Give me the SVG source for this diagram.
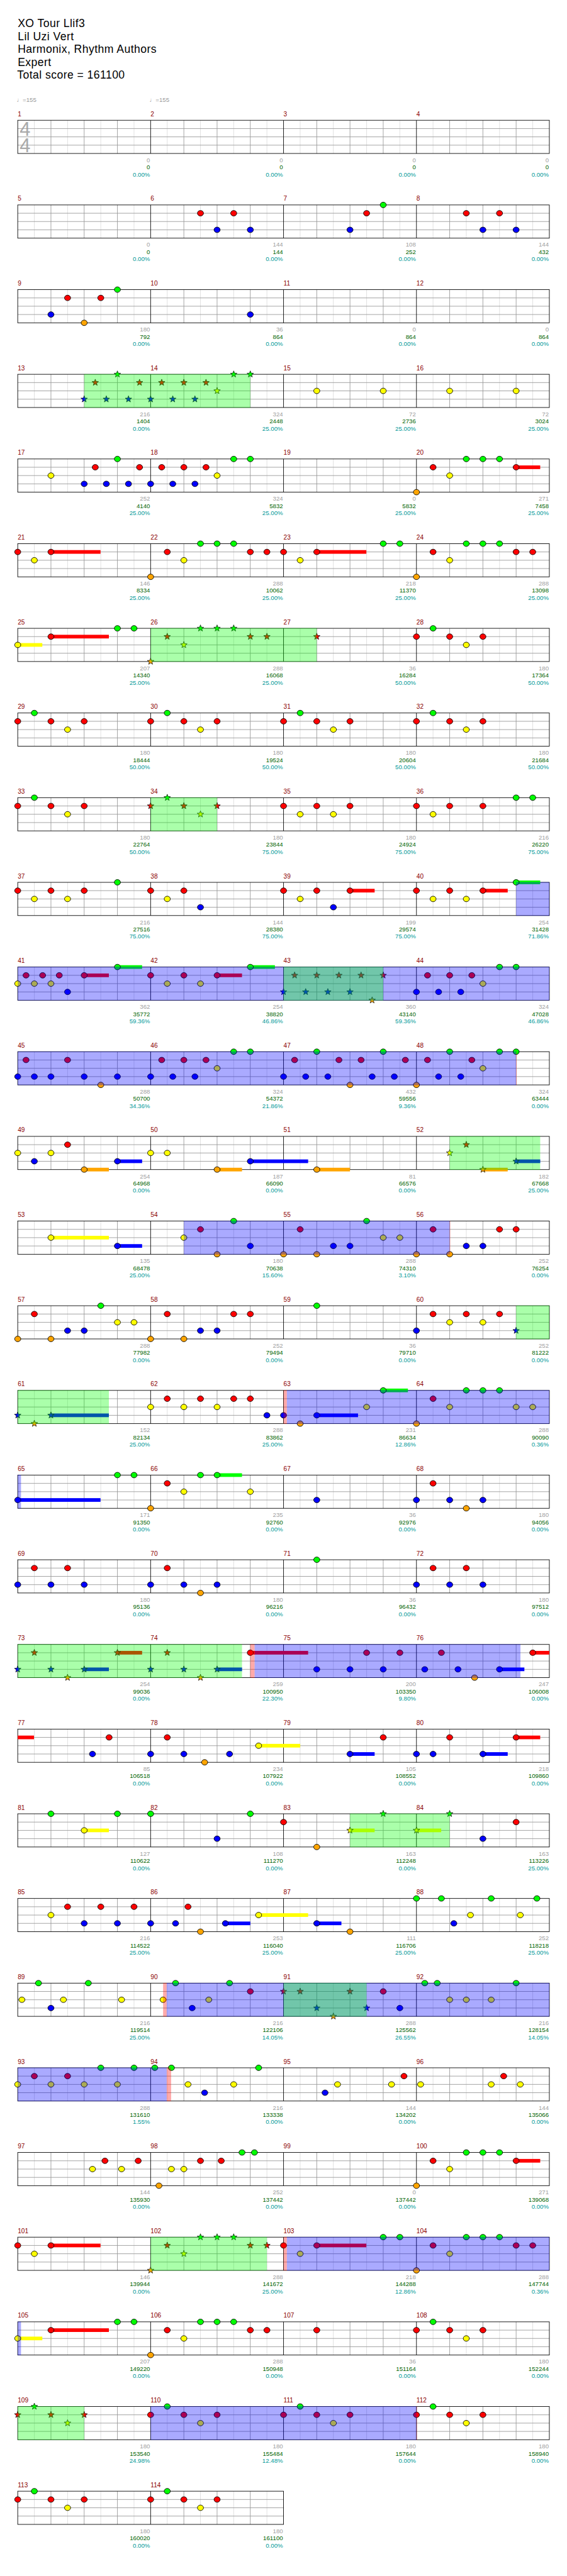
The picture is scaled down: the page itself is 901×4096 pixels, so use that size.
<svg xmlns="http://www.w3.org/2000/svg" xmlns:xlink="http://www.w3.org/1999/xlink" width="901" height="4096" viewBox="0 0 901 4096">
<style>
text{font-family:"Liberation Sans","DejaVu Sans",Arial,sans-serif}
.t{font-size:20px;letter-spacing:0.5px;fill:#000}
.tp{font-size:11px;fill:#999}
.mn{font-size:11.5px;fill:#8b0000}
.a,.b,.c{font-size:11px;text-anchor:end}
.a{fill:#a0a0a0}.b{fill:#006400}.c{fill:#009999}
.ts{font-size:35px;fill:#aaa}
.lt{stroke:#ddd;fill:none}.gy{stroke:#999;fill:none}.bk{stroke:#000;fill:none}
.sg{fill:#0f0}.sr{fill:#f00}.sy{fill:#ff0}.sb{fill:#00f}.so{fill:#ffa500}
.ob{fill:#00f;fill-opacity:.333}.og{fill:#0f0;fill-opacity:.333}.op{fill:#f00;fill-opacity:.333}
</style>
<defs>
<g id="staff">
<path class="lt" d="M30 0V60M90 0V60M150 0V60M210 0V60M270 0V60M330 0V60M390 0V60M450 0V60M510 0V60M570 0V60M630 0V60M690 0V60M750 0V60M810 0V60M870 0V60M930 0V60"/>
<path class="gy" d="M60 0V60M120 0V60M180 0V60M300 0V60M360 0V60M420 0V60M540 0V60M600 0V60M660 0V60M780 0V60M840 0V60M900 0V60M0 15H960M0 30H960M0 45H960"/>
<path class="bk" d="M240 0V60M480 0V60M720 0V60"/>
<rect class="bk" x="0" y="0" width="960" height="60"/>
</g>
<g id="staff2">
<path class="lt" d="M30 0V60M90 0V60M150 0V60M210 0V60M270 0V60M330 0V60M390 0V60M450 0V60"/>
<path class="gy" d="M60 0V60M120 0V60M180 0V60M300 0V60M360 0V60M420 0V60M0 15H480M0 30H480M0 45H480"/>
<path class="bk" d="M240 0V60"/>
<rect class="bk" x="0" y="0" width="480" height="60"/>
</g>
<ellipse id="G" rx="5.5" ry="5" fill="#0f0" stroke="#000"/>
<ellipse id="R" cy="15" rx="5.5" ry="5" fill="#f00" stroke="#000"/>
<ellipse id="Y" cy="30" rx="5.5" ry="5" fill="#ff0" stroke="#000"/>
<ellipse id="B" cy="45" rx="5.5" ry="5" fill="#00f" stroke="#000"/>
<ellipse id="O" cy="60" rx="5.5" ry="5" fill="#ffa500" stroke="#000"/>
<path id="st" d="M0,-6.2L1.5,-2.1L5.9,-1.9L2.4,0.8L3.6,5L0,2.6L-3.6,5L-2.4,0.8L-5.9,-1.9L-1.5,-2.1Z" stroke="#000" stroke-width=".8"/>
<use id="sG" href="#st" fill="#0f0"/>
<use id="sR" href="#st" y="15" fill="#f00"/>
<use id="sY" href="#st" y="30" fill="#ff0"/>
<use id="sB" href="#st" y="45" fill="#00f"/>
<use id="sO" href="#st" y="60" fill="#ffa500"/>
</defs>
<rect x="0" y="0" width="901" height="4096" fill="#fff"/>
<g transform="scale(0.88)">
<g id="header">
<text class="t" x="32" y="49">XO Tour Llif3</text>
<text class="t" x="32" y="72.5">Lil Uzi Vert</text>
<text class="t" x="32" y="96">Harmonix, Rhythm Authors</text>
<text class="t" x="32" y="119">Expert</text>
<text class="t" x="31" y="142">Total score = 161100</text>
<text class="tp" x="30" y="184">♩=155</text>
<text class="tp" x="270" y="184">♩=155</text>
<text class="ts" transform="translate(35.5,245) rotate(90)" x="0 30" y="0" rotate="-90">44</text>
</g>

<g id="row1" transform="translate(32,217.3)">
<use href="#staff"/>
<text class="mn" x="0" y="-7.3">1</text><text class="mn" x="240" y="-7.3">2</text><text class="mn" x="480" y="-7.3">3</text><text class="mn" x="720" y="-7.3">4</text>
<text class="a" x="239" y="75.7">0</text><text class="b" x="239" y="88.7">0</text><text class="c" x="239" y="101.7">0.00%</text>
<text class="a" x="479" y="75.7">0</text><text class="b" x="479" y="88.7">0</text><text class="c" x="479" y="101.7">0.00%</text>
<text class="a" x="719" y="75.7">0</text><text class="b" x="719" y="88.7">0</text><text class="c" x="719" y="101.7">0.00%</text>
<text class="a" x="959" y="75.7">0</text><text class="b" x="959" y="88.7">0</text><text class="c" x="959" y="101.7">0.00%</text>
</g>

<g id="row2" transform="translate(32,370.3)">
<use href="#staff"/>
<use href="#R" x="330"/><use href="#B" x="360"/><use href="#R" x="390"/><use href="#B" x="420"/><use href="#B" x="600"/><use href="#R" x="630"/><use href="#G" x="660"/><use href="#R" x="810"/><use href="#B" x="840"/><use href="#R" x="870"/><use href="#B" x="900"/>
<text class="mn" x="0" y="-7.3">5</text><text class="mn" x="240" y="-7.3">6</text><text class="mn" x="480" y="-7.3">7</text><text class="mn" x="720" y="-7.3">8</text>
<text class="a" x="239" y="75.7">0</text><text class="b" x="239" y="88.7">0</text><text class="c" x="239" y="101.7">0.00%</text>
<text class="a" x="479" y="75.7">144</text><text class="b" x="479" y="88.7">144</text><text class="c" x="479" y="101.7">0.00%</text>
<text class="a" x="719" y="75.7">108</text><text class="b" x="719" y="88.7">252</text><text class="c" x="719" y="101.7">0.00%</text>
<text class="a" x="959" y="75.7">144</text><text class="b" x="959" y="88.7">432</text><text class="c" x="959" y="101.7">0.00%</text>
</g>

<g id="row3" transform="translate(32,523.3)">
<use href="#staff"/>
<use href="#B" x="60"/><use href="#R" x="90"/><use href="#O" x="120"/><use href="#R" x="150"/><use href="#G" x="180"/><use href="#B" x="420"/>
<text class="mn" x="0" y="-7.3">9</text><text class="mn" x="240" y="-7.3">10</text><text class="mn" x="480" y="-7.3">11</text><text class="mn" x="720" y="-7.3">12</text>
<text class="a" x="239" y="75.7">180</text><text class="b" x="239" y="88.7">792</text><text class="c" x="239" y="101.7">0.00%</text>
<text class="a" x="479" y="75.7">36</text><text class="b" x="479" y="88.7">864</text><text class="c" x="479" y="101.7">0.00%</text>
<text class="a" x="719" y="75.7">0</text><text class="b" x="719" y="88.7">864</text><text class="c" x="719" y="101.7">0.00%</text>
<text class="a" x="959" y="75.7">0</text><text class="b" x="959" y="88.7">864</text><text class="c" x="959" y="101.7">0.00%</text>
</g>

<g id="row4" transform="translate(32,676.3)">
<use href="#staff"/>
<use href="#sB" x="120"/><use href="#sR" x="140"/><use href="#sB" x="160"/><use href="#sG" x="180"/><use href="#sB" x="200"/><use href="#sR" x="220"/><use href="#sB" x="240"/><use href="#sR" x="260"/><use href="#sB" x="280"/><use href="#sR" x="300"/><use href="#sB" x="320"/><use href="#sR" x="340"/><use href="#sY" x="360"/><use href="#sG" x="390"/><use href="#sG" x="420"/>
<use href="#Y" x="540"/><use href="#Y" x="660"/><use href="#Y" x="780"/><use href="#Y" x="900"/>
<rect class="og" x="120" y="-0.5" width="300" height="61"/>
<text class="mn" x="0" y="-7.3">13</text><text class="mn" x="240" y="-7.3">14</text><text class="mn" x="480" y="-7.3">15</text><text class="mn" x="720" y="-7.3">16</text>
<text class="a" x="239" y="75.7">216</text><text class="b" x="239" y="88.7">1404</text><text class="c" x="239" y="101.7">0.00%</text>
<text class="a" x="479" y="75.7">324</text><text class="b" x="479" y="88.7">2448</text><text class="c" x="479" y="101.7">25.00%</text>
<text class="a" x="719" y="75.7">72</text><text class="b" x="719" y="88.7">2736</text><text class="c" x="719" y="101.7">25.00%</text>
<text class="a" x="959" y="75.7">72</text><text class="b" x="959" y="88.7">3024</text><text class="c" x="959" y="101.7">25.00%</text>
</g>

<g id="row5" transform="translate(32,829.3)">
<use href="#staff"/>
<rect class="sr" x="900" y="11.7" width="43.5" height="6.6"/>
<use href="#Y" x="60"/><use href="#B" x="120"/><use href="#R" x="140"/><use href="#B" x="160"/><use href="#G" x="180"/><use href="#B" x="200"/><use href="#R" x="220"/><use href="#B" x="240"/><use href="#R" x="260"/><use href="#B" x="280"/><use href="#R" x="300"/><use href="#B" x="320"/><use href="#R" x="340"/><use href="#Y" x="360"/><use href="#G" x="390"/><use href="#G" x="420"/>
<use href="#O" x="720"/><use href="#R" x="750"/><use href="#Y" x="780"/><use href="#G" x="810"/><use href="#G" x="840"/><use href="#G" x="870"/><use href="#R" x="900"/>
<text class="mn" x="0" y="-7.3">17</text><text class="mn" x="240" y="-7.3">18</text><text class="mn" x="480" y="-7.3">19</text><text class="mn" x="720" y="-7.3">20</text>
<text class="a" x="239" y="75.7">252</text><text class="b" x="239" y="88.7">4140</text><text class="c" x="239" y="101.7">25.00%</text>
<text class="a" x="479" y="75.7">324</text><text class="b" x="479" y="88.7">5832</text><text class="c" x="479" y="101.7">25.00%</text>
<text class="a" x="719" y="75.7">0</text><text class="b" x="719" y="88.7">5832</text><text class="c" x="719" y="101.7">25.00%</text>
<text class="a" x="959" y="75.7">271</text><text class="b" x="959" y="88.7">7458</text><text class="c" x="959" y="101.7">25.00%</text>
</g>

<g id="row6" transform="translate(32,982.3)">
<use href="#staff"/>
<rect class="sr" x="60" y="11.7" width="89.5" height="6.6"/><rect class="sr" x="540" y="11.7" width="89.5" height="6.6"/>
<use href="#R" x="0"/><use href="#Y" x="30"/><use href="#R" x="60"/><use href="#O" x="240"/><use href="#R" x="270"/><use href="#Y" x="300"/><use href="#G" x="330"/><use href="#G" x="360"/><use href="#G" x="390"/><use href="#R" x="420"/><use href="#R" x="450"/><use href="#R" x="480"/><use href="#Y" x="510"/><use href="#R" x="540"/><use href="#G" x="660"/><use href="#G" x="690"/><use href="#O" x="720"/><use href="#R" x="750"/><use href="#Y" x="780"/><use href="#G" x="810"/><use href="#G" x="840"/><use href="#G" x="870"/><use href="#R" x="900"/><use href="#R" x="930"/>
<text class="mn" x="0" y="-7.3">21</text><text class="mn" x="240" y="-7.3">22</text><text class="mn" x="480" y="-7.3">23</text><text class="mn" x="720" y="-7.3">24</text>
<text class="a" x="239" y="75.7">146</text><text class="b" x="239" y="88.7">8334</text><text class="c" x="239" y="101.7">25.00%</text>
<text class="a" x="479" y="75.7">288</text><text class="b" x="479" y="88.7">10062</text><text class="c" x="479" y="101.7">25.00%</text>
<text class="a" x="719" y="75.7">218</text><text class="b" x="719" y="88.7">11370</text><text class="c" x="719" y="101.7">25.00%</text>
<text class="a" x="959" y="75.7">288</text><text class="b" x="959" y="88.7">13098</text><text class="c" x="959" y="101.7">25.00%</text>
</g>

<g id="row7" transform="translate(32,1135.3)">
<use href="#staff"/>
<rect class="sy" x="0" y="26.7" width="44.4" height="6.6"/><rect class="sr" x="60" y="11.7" width="104.6" height="6.6"/>
<use href="#Y" x="0"/><use href="#R" x="60"/><use href="#G" x="180"/><use href="#G" x="210"/>
<use href="#sO" x="240"/><use href="#sR" x="270"/><use href="#sY" x="300"/><use href="#sG" x="330"/><use href="#sG" x="360"/><use href="#sG" x="390"/><use href="#sR" x="420"/><use href="#sR" x="450"/><use href="#sR" x="540"/>
<use href="#R" x="720"/><use href="#G" x="750"/><use href="#R" x="780"/><use href="#Y" x="810"/><use href="#R" x="840"/>
<rect class="og" x="240" y="-0.5" width="300" height="61"/>
<text class="mn" x="0" y="-7.3">25</text><text class="mn" x="240" y="-7.3">26</text><text class="mn" x="480" y="-7.3">27</text><text class="mn" x="720" y="-7.3">28</text>
<text class="a" x="239" y="75.7">207</text><text class="b" x="239" y="88.7">14340</text><text class="c" x="239" y="101.7">25.00%</text>
<text class="a" x="479" y="75.7">288</text><text class="b" x="479" y="88.7">16068</text><text class="c" x="479" y="101.7">25.00%</text>
<text class="a" x="719" y="75.7">36</text><text class="b" x="719" y="88.7">16284</text><text class="c" x="719" y="101.7">50.00%</text>
<text class="a" x="959" y="75.7">180</text><text class="b" x="959" y="88.7">17364</text><text class="c" x="959" y="101.7">50.00%</text>
</g>

<g id="row8" transform="translate(32,1288.3)">
<use href="#staff"/>
<use href="#R" x="0"/><use href="#G" x="30"/><use href="#R" x="60"/><use href="#Y" x="90"/><use href="#R" x="120"/><use href="#R" x="240"/><use href="#G" x="270"/><use href="#R" x="300"/><use href="#Y" x="330"/><use href="#R" x="360"/><use href="#R" x="480"/><use href="#G" x="510"/><use href="#R" x="540"/><use href="#Y" x="570"/><use href="#R" x="600"/><use href="#R" x="720"/><use href="#G" x="750"/><use href="#R" x="780"/><use href="#Y" x="810"/><use href="#R" x="840"/>
<text class="mn" x="0" y="-7.3">29</text><text class="mn" x="240" y="-7.3">30</text><text class="mn" x="480" y="-7.3">31</text><text class="mn" x="720" y="-7.3">32</text>
<text class="a" x="239" y="75.7">180</text><text class="b" x="239" y="88.7">18444</text><text class="c" x="239" y="101.7">50.00%</text>
<text class="a" x="479" y="75.7">180</text><text class="b" x="479" y="88.7">19524</text><text class="c" x="479" y="101.7">50.00%</text>
<text class="a" x="719" y="75.7">180</text><text class="b" x="719" y="88.7">20604</text><text class="c" x="719" y="101.7">50.00%</text>
<text class="a" x="959" y="75.7">180</text><text class="b" x="959" y="88.7">21684</text><text class="c" x="959" y="101.7">50.00%</text>
</g>

<g id="row9" transform="translate(32,1441.3)">
<use href="#staff"/>
<use href="#R" x="0"/><use href="#G" x="30"/><use href="#R" x="60"/><use href="#Y" x="90"/><use href="#R" x="120"/>
<use href="#sR" x="240"/><use href="#sG" x="270"/><use href="#sR" x="300"/><use href="#sY" x="330"/><use href="#sR" x="360"/>
<use href="#R" x="480"/><use href="#Y" x="510"/><use href="#R" x="540"/><use href="#Y" x="570"/><use href="#R" x="600"/><use href="#R" x="720"/><use href="#Y" x="750"/><use href="#R" x="780"/><use href="#R" x="840"/><use href="#G" x="900"/><use href="#G" x="930"/>
<rect class="og" x="240" y="-0.5" width="120" height="61"/>
<text class="mn" x="0" y="-7.3">33</text><text class="mn" x="240" y="-7.3">34</text><text class="mn" x="480" y="-7.3">35</text><text class="mn" x="720" y="-7.3">36</text>
<text class="a" x="239" y="75.7">180</text><text class="b" x="239" y="88.7">22764</text><text class="c" x="239" y="101.7">50.00%</text>
<text class="a" x="479" y="75.7">180</text><text class="b" x="479" y="88.7">23844</text><text class="c" x="479" y="101.7">75.00%</text>
<text class="a" x="719" y="75.7">180</text><text class="b" x="719" y="88.7">24924</text><text class="c" x="719" y="101.7">75.00%</text>
<text class="a" x="959" y="75.7">216</text><text class="b" x="959" y="88.7">26220</text><text class="c" x="959" y="101.7">75.00%</text>
</g>

<g id="row10" transform="translate(32,1594.3)">
<use href="#staff"/>
<rect class="sr" x="600" y="11.7" width="44.5" height="6.6"/><rect class="sr" x="840" y="11.7" width="44.8" height="6.6"/><rect class="sg" x="900" y="-3.3" width="43.5" height="6.6"/>
<use href="#R" x="0"/><use href="#Y" x="30"/><use href="#R" x="60"/><use href="#Y" x="90"/><use href="#R" x="120"/><use href="#G" x="180"/><use href="#R" x="240"/><use href="#Y" x="270"/><use href="#R" x="300"/><use href="#B" x="330"/><use href="#R" x="480"/><use href="#Y" x="510"/><use href="#R" x="540"/><use href="#B" x="570"/><use href="#R" x="600"/><use href="#R" x="720"/><use href="#Y" x="750"/><use href="#R" x="780"/><use href="#Y" x="810"/><use href="#R" x="840"/><use href="#G" x="900"/>
<rect class="ob" x="900" y="-0.5" width="60" height="61"/>
<text class="mn" x="0" y="-7.3">37</text><text class="mn" x="240" y="-7.3">38</text><text class="mn" x="480" y="-7.3">39</text><text class="mn" x="720" y="-7.3">40</text>
<text class="a" x="239" y="75.7">216</text><text class="b" x="239" y="88.7">27516</text><text class="c" x="239" y="101.7">75.00%</text>
<text class="a" x="479" y="75.7">144</text><text class="b" x="479" y="88.7">28380</text><text class="c" x="479" y="101.7">75.00%</text>
<text class="a" x="719" y="75.7">199</text><text class="b" x="719" y="88.7">29574</text><text class="c" x="719" y="101.7">75.00%</text>
<text class="a" x="959" y="75.7">254</text><text class="b" x="959" y="88.7">31428</text><text class="c" x="959" y="101.7">71.86%</text>
</g>

<g id="row11" transform="translate(32,1747.3)">
<use href="#staff"/>
<rect class="sr" x="120" y="11.7" width="44.6" height="6.6"/><rect class="sg" x="180" y="-3.3" width="44.6" height="6.6"/><rect class="sr" x="360" y="11.7" width="45" height="6.6"/><rect class="sg" x="420" y="-3.3" width="44.4" height="6.6"/>
<use href="#Y" x="0"/><use href="#R" x="15"/><use href="#Y" x="30"/><use href="#R" x="45"/><use href="#Y" x="60"/><use href="#R" x="75"/><use href="#B" x="90"/><use href="#R" x="120"/><use href="#G" x="180"/><use href="#R" x="240"/><use href="#Y" x="270"/><use href="#R" x="300"/><use href="#Y" x="330"/><use href="#R" x="360"/><use href="#G" x="420"/>
<use href="#sB" x="480"/><use href="#sR" x="500"/><use href="#sB" x="520"/><use href="#sR" x="540"/><use href="#sB" x="560"/><use href="#sR" x="580"/><use href="#sB" x="600"/><use href="#sR" x="620"/><use href="#sO" x="640"/><use href="#sR" x="660"/>
<use href="#B" x="720"/><use href="#R" x="740"/><use href="#B" x="760"/><use href="#R" x="780"/><use href="#B" x="800"/><use href="#R" x="820"/><use href="#Y" x="840"/><use href="#G" x="870"/><use href="#G" x="900"/>
<rect class="ob" x="0" y="-0.5" width="960" height="61"/><rect class="og" x="480" y="-0.5" width="180" height="61"/>
<text class="mn" x="0" y="-7.3">41</text><text class="mn" x="240" y="-7.3">42</text><text class="mn" x="480" y="-7.3">43</text><text class="mn" x="720" y="-7.3">44</text>
<text class="a" x="239" y="75.7">362</text><text class="b" x="239" y="88.7">35772</text><text class="c" x="239" y="101.7">59.36%</text>
<text class="a" x="479" y="75.7">254</text><text class="b" x="479" y="88.7">38820</text><text class="c" x="479" y="101.7">46.86%</text>
<text class="a" x="719" y="75.7">360</text><text class="b" x="719" y="88.7">43140</text><text class="c" x="719" y="101.7">59.36%</text>
<text class="a" x="959" y="75.7">324</text><text class="b" x="959" y="88.7">47028</text><text class="c" x="959" y="101.7">46.86%</text>
</g>

<g id="row12" transform="translate(32,1900.3)">
<use href="#staff"/>
<use href="#B" x="0"/><use href="#R" x="15"/><use href="#B" x="30"/><use href="#B" x="60"/><use href="#R" x="90"/><use href="#B" x="120"/><use href="#O" x="150"/><use href="#B" x="180"/><use href="#B" x="240"/><use href="#R" x="260"/><use href="#B" x="280"/><use href="#R" x="300"/><use href="#B" x="320"/><use href="#R" x="340"/><use href="#Y" x="360"/><use href="#G" x="390"/><use href="#G" x="420"/><use href="#B" x="480"/><use href="#R" x="500"/><use href="#B" x="520"/><use href="#G" x="540"/><use href="#B" x="560"/><use href="#R" x="580"/><use href="#O" x="600"/><use href="#R" x="620"/><use href="#B" x="640"/><use href="#G" x="660"/><use href="#B" x="680"/><use href="#R" x="700"/><use href="#O" x="720"/><use href="#R" x="740"/><use href="#B" x="760"/><use href="#G" x="780"/><use href="#B" x="800"/><use href="#R" x="820"/><use href="#Y" x="840"/><use href="#G" x="870"/><use href="#G" x="900"/>
<rect class="ob" x="0" y="-0.5" width="900" height="61"/><rect class="op" x="900" y="-0.5" width="1" height="61"/>
<text class="mn" x="0" y="-7.3">45</text><text class="mn" x="240" y="-7.3">46</text><text class="mn" x="480" y="-7.3">47</text><text class="mn" x="720" y="-7.3">48</text>
<text class="a" x="239" y="75.7">288</text><text class="b" x="239" y="88.7">50700</text><text class="c" x="239" y="101.7">34.36%</text>
<text class="a" x="479" y="75.7">324</text><text class="b" x="479" y="88.7">54372</text><text class="c" x="479" y="101.7">21.86%</text>
<text class="a" x="719" y="75.7">432</text><text class="b" x="719" y="88.7">59556</text><text class="c" x="719" y="101.7">9.36%</text>
<text class="a" x="959" y="75.7">324</text><text class="b" x="959" y="88.7">63444</text><text class="c" x="959" y="101.7">0.00%</text>
</g>

<g id="row13" transform="translate(32,2053.3)">
<use href="#staff"/>
<rect class="so" x="120" y="56.7" width="44.6" height="6.6"/><rect class="sb" x="180" y="41.7" width="44.6" height="6.6"/><rect class="so" x="360" y="56.7" width="45" height="6.6"/><rect class="sb" x="420" y="41.7" width="104.4" height="6.6"/><rect class="so" x="540" y="56.7" width="60" height="6.6"/><rect class="so" x="840" y="56.7" width="44.8" height="6.6"/><rect class="sb" x="900" y="41.7" width="43.5" height="6.6"/>
<use href="#Y" x="0"/><use href="#B" x="30"/><use href="#Y" x="60"/><use href="#R" x="90"/><use href="#O" x="120"/><use href="#B" x="180"/><use href="#Y" x="240"/><use href="#Y" x="270"/><use href="#O" x="360"/><use href="#B" x="420"/><use href="#O" x="540"/>
<use href="#sY" x="780"/><use href="#sR" x="810"/><use href="#sO" x="840"/><use href="#sB" x="900"/>
<rect class="og" x="780" y="-0.5" width="163.5" height="61"/>
<text class="mn" x="0" y="-7.3">49</text><text class="mn" x="240" y="-7.3">50</text><text class="mn" x="480" y="-7.3">51</text><text class="mn" x="720" y="-7.3">52</text>
<text class="a" x="239" y="75.7">254</text><text class="b" x="239" y="88.7">64968</text><text class="c" x="239" y="101.7">0.00%</text>
<text class="a" x="479" y="75.7">187</text><text class="b" x="479" y="88.7">66090</text><text class="c" x="479" y="101.7">0.00%</text>
<text class="a" x="719" y="75.7">81</text><text class="b" x="719" y="88.7">66576</text><text class="c" x="719" y="101.7">0.00%</text>
<text class="a" x="959" y="75.7">182</text><text class="b" x="959" y="88.7">67668</text><text class="c" x="959" y="101.7">25.00%</text>
</g>

<g id="row14" transform="translate(32,2206.3)">
<use href="#staff"/>
<rect class="sy" x="60" y="26.7" width="104.6" height="6.6"/><rect class="sb" x="180" y="41.7" width="44.6" height="6.6"/>
<use href="#Y" x="60"/><use href="#B" x="180"/><use href="#Y" x="300"/><use href="#R" x="330"/><use href="#O" x="360"/><use href="#G" x="390"/><use href="#B" x="420"/><use href="#O" x="480"/><use href="#R" x="510"/><use href="#O" x="540"/><use href="#B" x="570"/><use href="#B" x="600"/><use href="#G" x="630"/><use href="#Y" x="660"/><use href="#Y" x="690"/><use href="#O" x="720"/><use href="#R" x="750"/><use href="#O" x="780"/><use href="#B" x="810"/><use href="#B" x="840"/><use href="#R" x="870"/><use href="#R" x="900"/>
<rect class="ob" x="300" y="-0.5" width="480" height="61"/><rect class="op" x="780" y="-0.5" width="1" height="61"/>
<text class="mn" x="0" y="-7.3">53</text><text class="mn" x="240" y="-7.3">54</text><text class="mn" x="480" y="-7.3">55</text><text class="mn" x="720" y="-7.3">56</text>
<text class="a" x="239" y="75.7">135</text><text class="b" x="239" y="88.7">68478</text><text class="c" x="239" y="101.7">25.00%</text>
<text class="a" x="479" y="75.7">180</text><text class="b" x="479" y="88.7">70638</text><text class="c" x="479" y="101.7">15.60%</text>
<text class="a" x="719" y="75.7">288</text><text class="b" x="719" y="88.7">74310</text><text class="c" x="719" y="101.7">3.10%</text>
<text class="a" x="959" y="75.7">252</text><text class="b" x="959" y="88.7">76254</text><text class="c" x="959" y="101.7">0.00%</text>
</g>

<g id="row15" transform="translate(32,2359.3)">
<use href="#staff"/>
<use href="#O" x="0"/><use href="#R" x="30"/><use href="#O" x="60"/><use href="#B" x="90"/><use href="#B" x="120"/><use href="#G" x="150"/><use href="#Y" x="180"/><use href="#Y" x="210"/><use href="#O" x="240"/><use href="#R" x="270"/><use href="#O" x="300"/><use href="#B" x="330"/><use href="#B" x="360"/><use href="#R" x="390"/><use href="#R" x="420"/><use href="#G" x="540"/><use href="#B" x="720"/><use href="#R" x="750"/><use href="#Y" x="780"/><use href="#R" x="810"/><use href="#Y" x="840"/><use href="#R" x="870"/><use href="#sB" x="900"/>
<rect class="og" x="900" y="-0.5" width="60" height="61"/>
<text class="mn" x="0" y="-7.3">57</text><text class="mn" x="240" y="-7.3">58</text><text class="mn" x="480" y="-7.3">59</text><text class="mn" x="720" y="-7.3">60</text>
<text class="a" x="239" y="75.7">288</text><text class="b" x="239" y="88.7">77982</text><text class="c" x="239" y="101.7">0.00%</text>
<text class="a" x="479" y="75.7">252</text><text class="b" x="479" y="88.7">79494</text><text class="c" x="479" y="101.7">0.00%</text>
<text class="a" x="719" y="75.7">36</text><text class="b" x="719" y="88.7">79710</text><text class="c" x="719" y="101.7">0.00%</text>
<text class="a" x="959" y="75.7">252</text><text class="b" x="959" y="88.7">81222</text><text class="c" x="959" y="101.7">0.00%</text>
</g>

<g id="row16" transform="translate(32,2512.3)">
<use href="#staff"/>
<rect class="sb" x="60" y="41.7" width="104.6" height="6.6"/><rect class="sb" x="540" y="41.7" width="74.5" height="6.6"/><rect class="sg" x="660" y="-3.3" width="44.6" height="6.6"/>
<use href="#sB" x="0"/><use href="#sO" x="30"/><use href="#sB" x="60"/>
<use href="#Y" x="240"/><use href="#R" x="270"/><use href="#Y" x="300"/><use href="#R" x="330"/><use href="#Y" x="360"/><use href="#R" x="390"/><use href="#R" x="420"/><use href="#B" x="450"/><use href="#B" x="480"/><use href="#O" x="510"/><use href="#B" x="540"/><use href="#Y" x="630"/><use href="#G" x="660"/><use href="#O" x="720"/><use href="#R" x="750"/><use href="#Y" x="780"/><use href="#G" x="810"/><use href="#G" x="840"/><use href="#G" x="870"/><use href="#Y" x="900"/><use href="#Y" x="930"/>
<rect class="og" x="0" y="-0.5" width="164.6" height="61"/><rect class="op" x="480" y="-0.5" width="6" height="61"/><rect class="ob" x="486" y="-0.5" width="474" height="61"/>
<text class="mn" x="0" y="-7.3">61</text><text class="mn" x="240" y="-7.3">62</text><text class="mn" x="480" y="-7.3">63</text><text class="mn" x="720" y="-7.3">64</text>
<text class="a" x="239" y="75.7">152</text><text class="b" x="239" y="88.7">82134</text><text class="c" x="239" y="101.7">25.00%</text>
<text class="a" x="479" y="75.7">288</text><text class="b" x="479" y="88.7">83862</text><text class="c" x="479" y="101.7">25.00%</text>
<text class="a" x="719" y="75.7">231</text><text class="b" x="719" y="88.7">86634</text><text class="c" x="719" y="101.7">12.86%</text>
<text class="a" x="959" y="75.7">288</text><text class="b" x="959" y="88.7">90090</text><text class="c" x="959" y="101.7">0.36%</text>
</g>

<g id="row17" transform="translate(32,2665.3)">
<use href="#staff"/>
<rect class="sb" x="0" y="41.7" width="149.5" height="6.6"/><rect class="sg" x="360" y="-3.3" width="45" height="6.6"/>
<use href="#B" x="0"/><use href="#G" x="180"/><use href="#G" x="210"/><use href="#O" x="240"/><use href="#R" x="270"/><use href="#Y" x="300"/><use href="#G" x="330"/><use href="#G" x="360"/><use href="#Y" x="420"/><use href="#B" x="540"/><use href="#B" x="720"/><use href="#R" x="750"/><use href="#B" x="780"/><use href="#O" x="810"/><use href="#B" x="840"/>
<rect class="ob" x="0" y="-0.5" width="5.9" height="61"/>
<text class="mn" x="0" y="-7.3">65</text><text class="mn" x="240" y="-7.3">66</text><text class="mn" x="480" y="-7.3">67</text><text class="mn" x="720" y="-7.3">68</text>
<text class="a" x="239" y="75.7">171</text><text class="b" x="239" y="88.7">91350</text><text class="c" x="239" y="101.7">0.00%</text>
<text class="a" x="479" y="75.7">235</text><text class="b" x="479" y="88.7">92760</text><text class="c" x="479" y="101.7">0.00%</text>
<text class="a" x="719" y="75.7">36</text><text class="b" x="719" y="88.7">92976</text><text class="c" x="719" y="101.7">0.00%</text>
<text class="a" x="959" y="75.7">180</text><text class="b" x="959" y="88.7">94056</text><text class="c" x="959" y="101.7">0.00%</text>
</g>

<g id="row18" transform="translate(32,2818.3)">
<use href="#staff"/>
<use href="#B" x="0"/><use href="#R" x="30"/><use href="#B" x="60"/><use href="#R" x="90"/><use href="#B" x="120"/><use href="#B" x="240"/><use href="#R" x="270"/><use href="#B" x="300"/><use href="#O" x="330"/><use href="#B" x="360"/><use href="#G" x="540"/><use href="#B" x="720"/><use href="#R" x="750"/><use href="#B" x="780"/><use href="#R" x="810"/><use href="#B" x="840"/>
<text class="mn" x="0" y="-7.3">69</text><text class="mn" x="240" y="-7.3">70</text><text class="mn" x="480" y="-7.3">71</text><text class="mn" x="720" y="-7.3">72</text>
<text class="a" x="239" y="75.7">180</text><text class="b" x="239" y="88.7">95136</text><text class="c" x="239" y="101.7">0.00%</text>
<text class="a" x="479" y="75.7">180</text><text class="b" x="479" y="88.7">96216</text><text class="c" x="479" y="101.7">0.00%</text>
<text class="a" x="719" y="75.7">36</text><text class="b" x="719" y="88.7">96432</text><text class="c" x="719" y="101.7">0.00%</text>
<text class="a" x="959" y="75.7">180</text><text class="b" x="959" y="88.7">97512</text><text class="c" x="959" y="101.7">0.00%</text>
</g>

<g id="row19" transform="translate(32,2971.3)">
<use href="#staff"/>
<rect class="sb" x="120" y="41.7" width="44.6" height="6.6"/><rect class="sr" x="180" y="11.7" width="44.6" height="6.6"/><rect class="sb" x="360" y="41.7" width="45" height="6.6"/><rect class="sr" x="420" y="11.7" width="104.4" height="6.6"/><rect class="sb" x="870" y="41.7" width="44.9" height="6.6"/><rect class="sr" x="930" y="11.7" width="30" height="6.6"/>
<use href="#sB" x="0"/><use href="#sR" x="30"/><use href="#sB" x="60"/><use href="#sO" x="90"/><use href="#sB" x="120"/><use href="#sR" x="180"/><use href="#sB" x="240"/><use href="#sR" x="270"/><use href="#sB" x="300"/><use href="#sO" x="330"/><use href="#sB" x="360"/>
<use href="#R" x="420"/><use href="#B" x="540"/><use href="#B" x="600"/><use href="#R" x="630"/><use href="#B" x="660"/><use href="#R" x="690"/><use href="#B" x="735"/><use href="#R" x="765"/><use href="#B" x="795"/><use href="#O" x="825"/><use href="#B" x="870"/><use href="#R" x="930"/>
<rect class="og" x="0" y="-0.5" width="405" height="61"/><rect class="op" x="420" y="-0.5" width="7.8" height="61"/><rect class="ob" x="427.8" y="-0.5" width="480" height="61"/>
<text class="mn" x="0" y="-7.3">73</text><text class="mn" x="240" y="-7.3">74</text><text class="mn" x="480" y="-7.3">75</text><text class="mn" x="720" y="-7.3">76</text>
<text class="a" x="239" y="75.7">254</text><text class="b" x="239" y="88.7">99036</text><text class="c" x="239" y="101.7">0.00%</text>
<text class="a" x="479" y="75.7">259</text><text class="b" x="479" y="88.7">100950</text><text class="c" x="479" y="101.7">22.30%</text>
<text class="a" x="719" y="75.7">200</text><text class="b" x="719" y="88.7">103350</text><text class="c" x="719" y="101.7">9.80%</text>
<text class="a" x="959" y="75.7">247</text><text class="b" x="959" y="88.7">106008</text><text class="c" x="959" y="101.7">0.00%</text>
</g>

<g id="row20" transform="translate(32,3124.3)">
<use href="#staff"/>
<rect class="sr" x="0" y="11.7" width="29.4" height="6.6"/><rect class="sy" x="435" y="26.7" width="75" height="6.6"/><rect class="sb" x="600" y="41.7" width="44.5" height="6.6"/><rect class="sb" x="840" y="41.7" width="44.8" height="6.6"/><rect class="sr" x="900" y="11.7" width="43.5" height="6.6"/>
<use href="#B" x="135"/><use href="#R" x="165"/><use href="#B" x="240"/><use href="#R" x="270"/><use href="#B" x="300"/><use href="#O" x="337.5"/><use href="#B" x="382.5"/><use href="#Y" x="435"/><use href="#B" x="600"/><use href="#R" x="660"/><use href="#B" x="720"/><use href="#B" x="750"/><use href="#R" x="780"/><use href="#B" x="840"/><use href="#R" x="900"/>
<text class="mn" x="0" y="-7.3">77</text><text class="mn" x="240" y="-7.3">78</text><text class="mn" x="480" y="-7.3">79</text><text class="mn" x="720" y="-7.3">80</text>
<text class="a" x="239" y="75.7">85</text><text class="b" x="239" y="88.7">106518</text><text class="c" x="239" y="101.7">0.00%</text>
<text class="a" x="479" y="75.7">234</text><text class="b" x="479" y="88.7">107922</text><text class="c" x="479" y="101.7">0.00%</text>
<text class="a" x="719" y="75.7">105</text><text class="b" x="719" y="88.7">108552</text><text class="c" x="719" y="101.7">0.00%</text>
<text class="a" x="959" y="75.7">218</text><text class="b" x="959" y="88.7">109860</text><text class="c" x="959" y="101.7">0.00%</text>
</g>

<g id="row21" transform="translate(32,3277.3)">
<use href="#staff"/>
<rect class="sy" x="120" y="26.7" width="44.6" height="6.6"/><rect class="sy" x="600" y="26.7" width="44.5" height="6.6"/><rect class="sy" x="720" y="26.7" width="44.7" height="6.6"/>
<use href="#G" x="60"/><use href="#Y" x="120"/><use href="#G" x="180"/><use href="#G" x="240"/><use href="#B" x="360"/><use href="#G" x="420"/><use href="#R" x="480"/><use href="#O" x="540"/>
<use href="#sY" x="600"/><use href="#sG" x="660"/><use href="#sY" x="720"/><use href="#sG" x="780"/>
<use href="#B" x="840"/><use href="#R" x="900"/>
<rect class="og" x="600" y="-0.5" width="180" height="61"/>
<text class="mn" x="0" y="-7.3">81</text><text class="mn" x="240" y="-7.3">82</text><text class="mn" x="480" y="-7.3">83</text><text class="mn" x="720" y="-7.3">84</text>
<text class="a" x="239" y="75.7">127</text><text class="b" x="239" y="88.7">110622</text><text class="c" x="239" y="101.7">0.00%</text>
<text class="a" x="479" y="75.7">108</text><text class="b" x="479" y="88.7">111270</text><text class="c" x="479" y="101.7">0.00%</text>
<text class="a" x="719" y="75.7">163</text><text class="b" x="719" y="88.7">112248</text><text class="c" x="719" y="101.7">0.00%</text>
<text class="a" x="959" y="75.7">163</text><text class="b" x="959" y="88.7">113226</text><text class="c" x="959" y="101.7">25.00%</text>
</g>

<g id="row22" transform="translate(32,3430.3)">
<use href="#staff"/>
<rect class="sb" x="375" y="41.7" width="45" height="6.6"/><rect class="sy" x="435" y="26.7" width="89.4" height="6.6"/><rect class="sb" x="540" y="41.7" width="44.5" height="6.6"/>
<use href="#Y" x="60"/><use href="#R" x="90"/><use href="#B" x="120"/><use href="#R" x="150"/><use href="#B" x="180"/><use href="#R" x="210"/><use href="#B" x="240"/><use href="#B" x="285"/><use href="#R" x="307.5"/><use href="#O" x="330"/><use href="#B" x="375"/><use href="#Y" x="435"/><use href="#B" x="540"/><use href="#O" x="600"/><use href="#G" x="720"/><use href="#G" x="765"/><use href="#B" x="787.5"/><use href="#Y" x="817.5"/><use href="#G" x="855"/><use href="#Y" x="907.5"/><use href="#G" x="937.5"/>
<text class="mn" x="0" y="-7.3">85</text><text class="mn" x="240" y="-7.3">86</text><text class="mn" x="480" y="-7.3">87</text><text class="mn" x="720" y="-7.3">88</text>
<text class="a" x="239" y="75.7">216</text><text class="b" x="239" y="88.7">114522</text><text class="c" x="239" y="101.7">25.00%</text>
<text class="a" x="479" y="75.7">253</text><text class="b" x="479" y="88.7">116040</text><text class="c" x="479" y="101.7">25.00%</text>
<text class="a" x="719" y="75.7">111</text><text class="b" x="719" y="88.7">116706</text><text class="c" x="719" y="101.7">25.00%</text>
<text class="a" x="959" y="75.7">252</text><text class="b" x="959" y="88.7">118218</text><text class="c" x="959" y="101.7">25.00%</text>
</g>

<g id="row23" transform="translate(32,3583.3)">
<use href="#staff"/>
<use href="#Y" x="7.5"/><use href="#G" x="37.5"/><use href="#B" x="60"/><use href="#Y" x="82.5"/><use href="#G" x="127.5"/><use href="#Y" x="187.5"/><use href="#Y" x="262.5"/><use href="#G" x="285"/><use href="#B" x="315"/><use href="#Y" x="345"/><use href="#G" x="382.5"/><use href="#R" x="420"/>
<use href="#sR" x="480"/><use href="#sR" x="510"/><use href="#sB" x="540"/><use href="#sO" x="570"/><use href="#sR" x="600"/><use href="#sB" x="630"/>
<use href="#R" x="660"/><use href="#B" x="690"/><use href="#G" x="735"/><use href="#G" x="757.5"/><use href="#Y" x="780"/><use href="#Y" x="810"/><use href="#Y" x="855"/><use href="#G" x="900"/>
<rect class="op" x="262.5" y="-0.5" width="6.5" height="61"/><rect class="ob" x="269" y="-0.5" width="691" height="61"/><rect class="og" x="480" y="-0.5" width="150" height="61"/>
<text class="mn" x="0" y="-7.3">89</text><text class="mn" x="240" y="-7.3">90</text><text class="mn" x="480" y="-7.3">91</text><text class="mn" x="720" y="-7.3">92</text>
<text class="a" x="239" y="75.7">216</text><text class="b" x="239" y="88.7">119514</text><text class="c" x="239" y="101.7">25.00%</text>
<text class="a" x="479" y="75.7">216</text><text class="b" x="479" y="88.7">122106</text><text class="c" x="479" y="101.7">14.05%</text>
<text class="a" x="719" y="75.7">288</text><text class="b" x="719" y="88.7">125562</text><text class="c" x="719" y="101.7">26.55%</text>
<text class="a" x="959" y="75.7">216</text><text class="b" x="959" y="88.7">128154</text><text class="c" x="959" y="101.7">14.05%</text>
</g>

<g id="row24" transform="translate(32,3736.3)">
<use href="#staff"/>
<use href="#Y" x="0"/><use href="#R" x="30"/><use href="#Y" x="60"/><use href="#R" x="90"/><use href="#Y" x="120"/><use href="#G" x="150"/><use href="#Y" x="180"/><use href="#G" x="210"/><use href="#G" x="247.5"/><use href="#G" x="277.5"/><use href="#Y" x="307.5"/><use href="#B" x="337.5"/><use href="#Y" x="390"/><use href="#G" x="435"/><use href="#B" x="555"/><use href="#Y" x="577.5"/><use href="#Y" x="675"/><use href="#R" x="697.5"/><use href="#Y" x="727.5"/><use href="#Y" x="855"/><use href="#R" x="877.5"/><use href="#Y" x="907.5"/>
<rect class="ob" x="0" y="-0.5" width="269" height="61"/><rect class="op" x="269" y="-0.5" width="8" height="61"/>
<text class="mn" x="0" y="-7.3">93</text><text class="mn" x="240" y="-7.3">94</text><text class="mn" x="480" y="-7.3">95</text><text class="mn" x="720" y="-7.3">96</text>
<text class="a" x="239" y="75.7">288</text><text class="b" x="239" y="88.7">131610</text><text class="c" x="239" y="101.7">1.55%</text>
<text class="a" x="479" y="75.7">216</text><text class="b" x="479" y="88.7">133338</text><text class="c" x="479" y="101.7">0.00%</text>
<text class="a" x="719" y="75.7">144</text><text class="b" x="719" y="88.7">134202</text><text class="c" x="719" y="101.7">0.00%</text>
<text class="a" x="959" y="75.7">144</text><text class="b" x="959" y="88.7">135066</text><text class="c" x="959" y="101.7">0.00%</text>
</g>

<g id="row25" transform="translate(32,3889.3)">
<use href="#staff"/>
<rect class="sr" x="900" y="11.7" width="43.5" height="6.6"/>
<use href="#Y" x="135"/><use href="#R" x="157.5"/><use href="#Y" x="187.5"/><use href="#R" x="217.5"/><use href="#O" x="255"/><use href="#Y" x="277.5"/><use href="#Y" x="300"/><use href="#R" x="330"/><use href="#R" x="367.5"/><use href="#G" x="405"/><use href="#G" x="427.5"/><use href="#O" x="720"/><use href="#R" x="750"/><use href="#Y" x="780"/><use href="#G" x="810"/><use href="#G" x="840"/><use href="#G" x="870"/><use href="#R" x="900"/>
<text class="mn" x="0" y="-7.3">97</text><text class="mn" x="240" y="-7.3">98</text><text class="mn" x="480" y="-7.3">99</text><text class="mn" x="720" y="-7.3">100</text>
<text class="a" x="239" y="75.7">144</text><text class="b" x="239" y="88.7">135930</text><text class="c" x="239" y="101.7">0.00%</text>
<text class="a" x="479" y="75.7">252</text><text class="b" x="479" y="88.7">137442</text><text class="c" x="479" y="101.7">0.00%</text>
<text class="a" x="719" y="75.7">0</text><text class="b" x="719" y="88.7">137442</text><text class="c" x="719" y="101.7">0.00%</text>
<text class="a" x="959" y="75.7">271</text><text class="b" x="959" y="88.7">139068</text><text class="c" x="959" y="101.7">0.00%</text>
</g>

<g id="row26" transform="translate(32,4042.3)">
<use href="#staff"/>
<rect class="sr" x="60" y="11.7" width="89.5" height="6.6"/><rect class="sr" x="540" y="11.7" width="89.5" height="6.6"/>
<use href="#R" x="0"/><use href="#Y" x="30"/><use href="#R" x="60"/>
<use href="#sO" x="240"/><use href="#sR" x="270"/><use href="#sY" x="300"/><use href="#sG" x="330"/><use href="#sG" x="360"/><use href="#sG" x="390"/><use href="#sR" x="420"/><use href="#sR" x="450"/>
<use href="#R" x="480"/><use href="#Y" x="510"/><use href="#R" x="540"/><use href="#G" x="660"/><use href="#G" x="690"/><use href="#O" x="720"/><use href="#R" x="750"/><use href="#Y" x="780"/><use href="#G" x="810"/><use href="#G" x="840"/><use href="#G" x="870"/><use href="#R" x="900"/><use href="#R" x="930"/>
<rect class="og" x="240" y="-0.5" width="210" height="61"/><rect class="op" x="480" y="-0.5" width="6" height="61"/><rect class="ob" x="486" y="-0.5" width="474" height="61"/>
<text class="mn" x="0" y="-7.3">101</text><text class="mn" x="240" y="-7.3">102</text><text class="mn" x="480" y="-7.3">103</text><text class="mn" x="720" y="-7.3">104</text>
<text class="a" x="239" y="75.7">146</text><text class="b" x="239" y="88.7">139944</text><text class="c" x="239" y="101.7">0.00%</text>
<text class="a" x="479" y="75.7">288</text><text class="b" x="479" y="88.7">141672</text><text class="c" x="479" y="101.7">25.00%</text>
<text class="a" x="719" y="75.7">218</text><text class="b" x="719" y="88.7">144288</text><text class="c" x="719" y="101.7">12.86%</text>
<text class="a" x="959" y="75.7">288</text><text class="b" x="959" y="88.7">147744</text><text class="c" x="959" y="101.7">0.36%</text>
</g>

<g id="row27" transform="translate(32,4195.3)">
<use href="#staff"/>
<rect class="sy" x="0" y="26.7" width="44.4" height="6.6"/><rect class="sr" x="60" y="11.7" width="104.6" height="6.6"/>
<use href="#Y" x="0"/><use href="#R" x="60"/><use href="#G" x="180"/><use href="#G" x="210"/><use href="#O" x="240"/><use href="#R" x="270"/><use href="#Y" x="300"/><use href="#G" x="330"/><use href="#G" x="360"/><use href="#G" x="390"/><use href="#R" x="420"/><use href="#R" x="450"/><use href="#R" x="540"/><use href="#R" x="720"/><use href="#G" x="750"/><use href="#R" x="780"/><use href="#Y" x="810"/><use href="#R" x="840"/>
<rect class="ob" x="0" y="-0.5" width="5.9" height="61"/>
<text class="mn" x="0" y="-7.3">105</text><text class="mn" x="240" y="-7.3">106</text><text class="mn" x="480" y="-7.3">107</text><text class="mn" x="720" y="-7.3">108</text>
<text class="a" x="239" y="75.7">207</text><text class="b" x="239" y="88.7">149220</text><text class="c" x="239" y="101.7">0.00%</text>
<text class="a" x="479" y="75.7">288</text><text class="b" x="479" y="88.7">150948</text><text class="c" x="479" y="101.7">0.00%</text>
<text class="a" x="719" y="75.7">36</text><text class="b" x="719" y="88.7">151164</text><text class="c" x="719" y="101.7">0.00%</text>
<text class="a" x="959" y="75.7">180</text><text class="b" x="959" y="88.7">152244</text><text class="c" x="959" y="101.7">0.00%</text>
</g>

<g id="row28" transform="translate(32,4348.3)">
<use href="#staff"/>
<use href="#sR" x="0"/><use href="#sG" x="30"/><use href="#sR" x="60"/><use href="#sY" x="90"/><use href="#sR" x="120"/>
<use href="#R" x="240"/><use href="#G" x="270"/><use href="#R" x="300"/><use href="#Y" x="330"/><use href="#R" x="360"/><use href="#R" x="480"/><use href="#G" x="510"/><use href="#R" x="540"/><use href="#Y" x="570"/><use href="#R" x="600"/><use href="#R" x="720"/><use href="#G" x="750"/><use href="#R" x="780"/><use href="#Y" x="810"/><use href="#R" x="840"/>
<rect class="og" x="0" y="-0.5" width="120" height="61"/><rect class="ob" x="240" y="-0.5" width="480" height="61"/><rect class="op" x="720" y="-0.5" width="1" height="61"/>
<text class="mn" x="0" y="-7.3">109</text><text class="mn" x="240" y="-7.3">110</text><text class="mn" x="480" y="-7.3">111</text><text class="mn" x="720" y="-7.3">112</text>
<text class="a" x="239" y="75.7">180</text><text class="b" x="239" y="88.7">153540</text><text class="c" x="239" y="101.7">24.98%</text>
<text class="a" x="479" y="75.7">180</text><text class="b" x="479" y="88.7">155484</text><text class="c" x="479" y="101.7">12.48%</text>
<text class="a" x="719" y="75.7">180</text><text class="b" x="719" y="88.7">157644</text><text class="c" x="719" y="101.7">0.00%</text>
<text class="a" x="959" y="75.7">180</text><text class="b" x="959" y="88.7">158940</text><text class="c" x="959" y="101.7">0.00%</text>
</g>

<g id="row29" transform="translate(32,4501.3)">
<use href="#staff2"/>
<use href="#R" x="0"/><use href="#G" x="30"/><use href="#R" x="60"/><use href="#Y" x="90"/><use href="#R" x="120"/><use href="#R" x="240"/><use href="#G" x="270"/><use href="#R" x="300"/><use href="#Y" x="330"/><use href="#R" x="360"/>
<text class="mn" x="0" y="-7.3">113</text><text class="mn" x="240" y="-7.3">114</text>
<text class="a" x="239" y="75.7">180</text><text class="b" x="239" y="88.7">160020</text><text class="c" x="239" y="101.7">0.00%</text>
<text class="a" x="479" y="75.7">180</text><text class="b" x="479" y="88.7">161100</text><text class="c" x="479" y="101.7">0.00%</text>
</g>
</g>
</svg>
